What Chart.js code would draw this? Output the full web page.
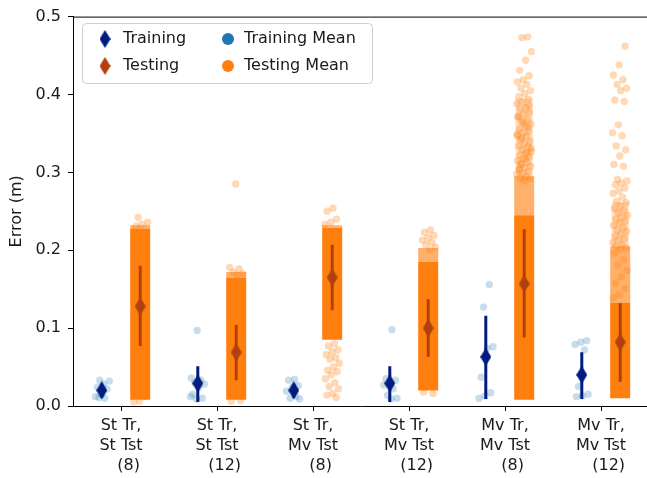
<!DOCTYPE html>
<html>
<head>
<meta charset="utf-8">
<script src="https://cdn.jsdelivr.net/npm/chart.js@4.4.0/dist/chart.umd.min.js"></script>
<style>
  html, body { margin: 0; padding: 0; background: #fff; overflow: hidden; width: 647px; height: 478px; }
  canvas { display: block; }
</style>
</head>
<body>
<canvas id="chart" width="660" height="478"></canvas>
<script>
// ---- data -------------------------------------------------------------
const categories = [
  ["St Tr,", "St Tst", "   (8)"],
  ["St Tr,", "St Tst", "   (12)"],
  ["St Tr,", "Mv Tst", "   (8)"],
  ["St Tr,", "Mv Tst", "   (12)"],
  ["Mv Tr,", "Mv Tst", "   (8)"],
  ["Mv Tr,", "Mv Tst", "   (12)"]
];
const yTicks = [0.0, 0.1, 0.2, 0.3, 0.4, 0.5];

// per-run training errors (one list per condition)
const trainErrors = [
  [0.033, 0.032, 0.028, 0.024, 0.022, 0.015, 0.012, 0.010, 0.011],
  [0.097, 0.036, 0.033, 0.030, 0.028, 0.024, 0.015, 0.010, 0.009, 0.012],
  [0.034, 0.033, 0.026, 0.024, 0.019, 0.012, 0.010, 0.009],
  [0.098, 0.035, 0.033, 0.030, 0.027, 0.022, 0.014, 0.010, 0.009],
  [0.156, 0.127, 0.076, 0.074, 0.037, 0.017, 0.013, 0.010],
  [0.084, 0.082, 0.079, 0.072, 0.025, 0.015, 0.013, 0.012]
];
const trainMean = [0.020, 0.029, 0.020, 0.029, 0.063, 0.040];
const trainLow  = [0.011, 0.005, 0.011, 0.005, 0.009, 0.009];
const trainHigh = [0.029, 0.051, 0.029, 0.051, 0.116, 0.069];

// testing errors: dense body of each strip, its thinner upper fringe,
// the sparse haze above that, and individually visible samples
const testBodyLow   = [0.008, 0.008, 0.085, 0.020, 0.008, 0.010];
const testBodyHigh  = [0.228, 0.165, 0.229, 0.185, 0.245, 0.133];
const testFringeTop = [0.232, 0.172, 0.232, 0.203, 0.295, 0.205];
const testHazeTop   = [0.232, 0.172, 0.232, 0.203, 0.395, 0.262];
const testOutliers = [
  [0.242, 0.236, 0.233, 0.231, 0.012, 0.006, 0.005],
  [0.285, 0.178, 0.176, 0.172, 0.170, 0.168, 0.006, 0.007],
  [0.254, 0.250, 0.240, 0.236, 0.233, 0.080, 0.077, 0.072, 0.069, 0.066, 0.062,
   0.060, 0.055, 0.050, 0.046, 0.044, 0.040, 0.035, 0.030, 0.025, 0.022, 0.016, 0.014, 0.011],
  [0.226, 0.223, 0.219, 0.216, 0.213, 0.210, 0.207, 0.204, 0.200, 0.018, 0.016],
  [0.474, 0.473, 0.455, 0.444, 0.431, 0.424, 0.419, 0.416, 0.413, 0.408, 0.405,
   0.401, 0.397, 0.394, 0.390, 0.388, 0.383, 0.381, 0.377, 0.375, 0.371, 0.368,
   0.366, 0.362, 0.360, 0.356, 0.353, 0.351, 0.347, 0.346, 0.342, 0.340, 0.337,
   0.334, 0.333, 0.329, 0.327, 0.326, 0.322, 0.320, 0.318, 0.315, 0.313, 0.311,
   0.308, 0.306, 0.305, 0.301, 0.299, 0.298, 0.295, 0.293, 0.292, 0.289,
   0.372, 0.358, 0.344, 0.331, 0.317, 0.303, 0.386, 0.364, 0.349, 0.324, 0.310],
  [0.462, 0.438, 0.425, 0.419, 0.413, 0.408, 0.405, 0.393, 0.391, 0.361, 0.351,
   0.347, 0.334, 0.329, 0.321, 0.310, 0.308, 0.291, 0.289, 0.286, 0.284, 0.280,
   0.276, 0.273, 0.268, 0.263, 0.261, 0.257, 0.254, 0.251, 0.248, 0.245, 0.242,
   0.240, 0.237, 0.235, 0.232, 0.229, 0.226, 0.224, 0.221, 0.218, 0.215, 0.213,
   0.210, 0.207, 0.205, 0.203, 0.201, 0.196, 0.188, 0.181, 0.174, 0.166, 0.158,
   0.151, 0.143, 0.139]
];
const testMean = [0.128, 0.069, 0.165, 0.100, 0.157, 0.082];
const testLow  = [0.077, 0.033, 0.123, 0.063, 0.088, 0.031];
const testHigh = [0.180, 0.104, 0.207, 0.137, 0.227, 0.132];

// ---- helpers ----------------------------------------------------------
const DODGE = 0.2;
const TRAIN_DARK = '#001c7f', TEST_DARK = '#b1400d';
const TRAIN_LIGHT = '#1f77b4', TEST_LIGHT = '#ff7f0e';

// deterministic horizontal spread for strip points
function spread(i) {
  const f = (i * 0.6180339887 + 0.37) % 1;
  return (f - 0.5) * 0.16;
}
function strip(groups, side) {
  const pts = [];
  groups.forEach((vals, c) => vals.forEach((v, i) => pts.push({ x: c + side + spread(i + c * 5), y: v })));
  return pts;
}
function spans(lows, highs, side) {
  const pts = [];
  lows.forEach((lo, c) => {
    pts.push({ x: c + side, y: lo }, { x: c + side, y: highs[c] }, { x: c + side, y: null });
  });
  return pts;
}
function centres(vals, side) {
  return vals.map((v, c) => ({ x: c + side, y: v }));
}
function diamond(color) {
  const w = 11, h = 18;
  const cv = document.createElement('canvas');
  cv.width = w; cv.height = h;
  const g = cv.getContext('2d');
  g.fillStyle = color;
  g.beginPath();
  g.moveTo(w / 2, 0); g.lineTo(w, h / 2); g.lineTo(w / 2, h); g.lineTo(0, h / 2);
  g.closePath(); g.fill();
  return cv;
}
const trainDiamond = diamond(TRAIN_DARK);
const testDiamond = diamond(TEST_DARK);

// ---- plugins ----------------------------------------------------------
const frame = {
  id: 'frame',
  afterDatasetsDraw(chart) {
    const { ctx, chartArea: a } = chart;
    ctx.save();
    ctx.strokeStyle = '#000';
    ctx.lineWidth = 1;
    ctx.beginPath();
    ctx.moveTo(a.left, a.top + 0.5);
    ctx.lineTo(a.right, a.top + 0.5);
    ctx.moveTo(a.right - 0.5, a.top);
    ctx.lineTo(a.right - 0.5, a.bottom);
    ctx.stroke();
    ctx.restore();
  }
};

const legendBox = {
  id: 'legendBox',
  afterDraw(chart) {
    const ctx = chart.ctx;
    const x0 = 82, y0 = 23, w = 290, h = 60, r = 4;
    ctx.save();
    ctx.fillStyle = 'rgba(255,255,255,0.8)';
    ctx.strokeStyle = '#d0d0d0';
    ctx.lineWidth = 1;
    ctx.beginPath();
    ctx.roundRect(x0 + 0.5, y0 + 0.5, w, h, r);
    ctx.fill();
    ctx.stroke();
    const items = [
      { kind: 'd', img: trainDiamond, text: 'Training', mx: 105, tx: 123, y: 39 },
      { kind: 'd', img: testDiamond, text: 'Testing', mx: 105, tx: 123, y: 66 },
      { kind: 'o', color: TRAIN_LIGHT, text: 'Training Mean', mx: 228, tx: 244, y: 39 },
      { kind: 'o', color: TEST_LIGHT, text: 'Testing Mean', mx: 228, tx: 244, y: 66 }
    ];
    ctx.font = '16px "DejaVu Sans"';
    ctx.textBaseline = 'middle';
    ctx.textAlign = 'left';
    items.forEach(it => {
      if (it.kind === 'd') {
        ctx.drawImage(it.img, it.mx - it.img.width / 2, it.y - it.img.height / 2);
      } else {
        ctx.fillStyle = it.color;
        ctx.beginPath();
        ctx.arc(it.mx, it.y, 6, 0, Math.PI * 2);
        ctx.fill();
      }
      ctx.fillStyle = '#1a1a1a';
      ctx.fillText(it.text, it.tx, it.y);
    });
    ctx.restore();
  }
};

// ---- chart ------------------------------------------------------------
Chart.defaults.font.family = '"DejaVu Sans", sans-serif';
Chart.defaults.font.size = 16;
Chart.defaults.color = '#1a1a1a';

const band = (label, lows, highs, color, width, order) => ({
  type: 'line', label, data: spans(lows, highs, DODGE),
  borderColor: color, borderWidth: width, pointRadius: 0, spanGaps: false, order
});

new Chart(document.getElementById('chart'), {
  data: {
    datasets: [
      { type: 'scatter', label: 'Training', data: centres(trainMean, -DODGE),
        pointStyle: trainDiamond, pointRadius: 8, order: 0 },
      { type: 'scatter', label: 'Testing', data: centres(testMean, DODGE),
        pointStyle: testDiamond, pointRadius: 8, order: 0 },
      { type: 'line', label: 'train ci', data: spans(trainLow, trainHigh, -DODGE),
        borderColor: TRAIN_DARK, borderWidth: 3, pointRadius: 0, spanGaps: false, order: 1 },
      { type: 'line', label: 'test ci', data: spans(testLow, testHigh, DODGE),
        borderColor: TEST_DARK, borderWidth: 3, pointRadius: 0, spanGaps: false, order: 1 },
      { type: 'scatter', label: 'Testing Mean', data: strip(testOutliers, DODGE),
        backgroundColor: 'rgba(255,127,14,0.3)', borderWidth: 0, pointRadius: 3.7, order: 2 },
      band('test body', testBodyLow, testBodyHigh, TEST_LIGHT, 20, 3),
      band('test fringe', testBodyHigh, testFringeTop, 'rgba(255,127,14,0.62)', 20, 4),
      band('test haze', testFringeTop, testHazeTop, 'rgba(255,127,14,0.25)', 17, 5),
      { type: 'scatter', label: 'Training Mean', data: strip(trainErrors, -DODGE),
        backgroundColor: 'rgba(31,119,180,0.25)', borderWidth: 0, pointRadius: 3.7, order: 6 }
    ]
  },
  options: {
    responsive: false,
    animation: false,
    devicePixelRatio: 1,
    events: [],
    layout: { padding: { left: 0, right: 11, top: 15, bottom: 0 } },
    plugins: { legend: { display: false }, tooltip: { enabled: false } },
    scales: {
      x: {
        type: 'linear', min: -0.5, max: 5.5,
        afterBuildTicks: s => { s.ticks = categories.map((_, i) => ({ value: i })); },
        afterFit: s => { s.height = 72; },
        ticks: {
          callback: v => categories[v],
          padding: 5,
          font: { size: 16, lineHeight: 1.25 },
          color: '#1a1a1a',
          maxRotation: 0, autoSkip: false
        },
        grid: { drawOnChartArea: false, drawTicks: true, tickLength: 5, color: '#000', lineWidth: 1 },
        border: { display: true, color: '#000', width: 1 }
      },
      y: {
        type: 'linear', min: 0, max: 0.5,
        afterBuildTicks: s => { s.ticks = yTicks.map(v => ({ value: v })); },
        afterFit: s => { s.width = 73; },
        ticks: {
          callback: v => v.toFixed(1),
          padding: 7,
          color: '#1a1a1a'
        },
        grid: { drawOnChartArea: false, drawTicks: true, tickLength: 5, color: '#000', lineWidth: 1 },
        border: { display: true, color: '#000', width: 1 },
        title: { display: true, text: 'Error (m)', padding: { top: 7, bottom: 0 }, color: '#1a1a1a' }
      }
    }
  },
  plugins: [frame, legendBox]
});
</script>
</body>
</html>
